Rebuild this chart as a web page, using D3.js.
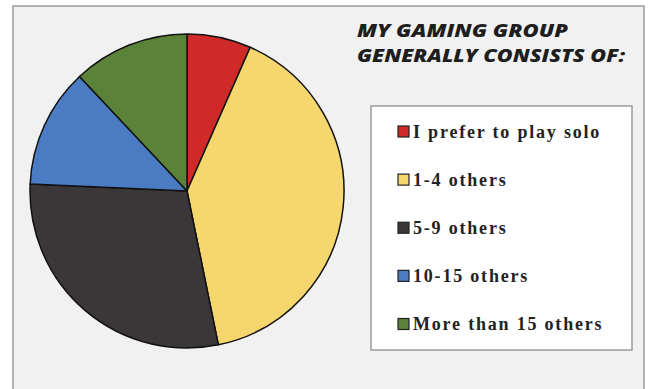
<!DOCTYPE html>
<html lang="en">
<head>
<meta charset="UTF-8">
<title>My gaming group</title>
<script src="https://d3js.org/d3.v7.min.js"></script>
<style>
  html, body { margin: 0; padding: 0; background: #fff; }
  svg { display: block; }
</style>
</head>
<body>
<div id="chart"></div>
<script>
// data (percent of respondents)
const categories = ["I prefer to play solo", "1-4 others", "5-9 others", "10-15 others", "More than 15 others"];
const values = [6.6, 40.2, 28.9, 12.3, 12.0];
const colors = ["#cf2a27", "#f5d76e", "#3b3738", "#4a7bc3", "#5b8239"];
const titleLines = ["MY GAMING GROUP", "GENERALLY CONSISTS OF:"];

const W = 649, H = 389;
const svg = d3.select("#chart").append("svg")
  .attr("width", W).attr("height", H);

// panel background + frame (left, top, right only)
svg.append("rect")
  .attr("x", 13).attr("y", 6).attr("width", 631).attr("height", H)
  .attr("fill", "#f1f1f1");
svg.append("path")
  .attr("d", `M13,${H} V6 H644 V${H}`)
  .attr("fill", "none").attr("stroke", "#9a9a9a").attr("stroke-width", 1.5);

// pie
const cx = 187, cy = 191, r = 157;
const pie = d3.pie().sort(null).value(d => d.v);
const arc = d3.arc().innerRadius(0).outerRadius(r);
const data = categories.map((c, i) => ({ c, v: values[i], col: colors[i] }));

svg.append("g")
  .attr("transform", `translate(${cx},${cy})`)
  .selectAll("path")
  .data(pie(data))
  .join("path")
  .attr("d", arc)
  .attr("fill", d => d.data.col)
  .attr("stroke", "#111")
  .attr("stroke-width", 1.5)
  .attr("stroke-linejoin", "round");

// title
svg.append("g")
  .selectAll("text")
  .data(titleLines)
  .join("text")
  .attr("x", 357)
  .attr("y", (d, i) => 37 + i * 25)
  .attr("font-family", "'Open Sans', sans-serif")
  .attr("font-weight", 800)
  .attr("font-style", "italic")
  .attr("font-size", 18)
  .attr("fill", "#1e1e1e")
  .attr("textLength", (d, i) => i === 0 ? 211 : 268)
  .attr("lengthAdjust", "spacingAndGlyphs")
  .text(d => d);

// legend box
svg.append("rect")
  .attr("x", 371).attr("y", 106).attr("width", 261).attr("height", 244)
  .attr("fill", "#fff").attr("stroke", "#9a9a9a").attr("stroke-width", 1.5);

const y = d3.scalePoint().domain(categories).range([137.5, 330]);
const leg = svg.append("g").selectAll("g")
  .data(data)
  .join("g")
  .attr("transform", d => `translate(398,${y(d.c)})`);

leg.append("rect")
  .attr("x", 0).attr("y", -11.5).attr("width", 11).attr("height", 11)
  .attr("fill", d => d.col).attr("stroke", "#222").attr("stroke-width", 1.2);

leg.append("text")
  .attr("x", 15)
  .attr("y", 0)
  .attr("font-family", "'Liberation Serif', serif")
  .attr("font-weight", 700)
  .attr("font-size", 18)
  .attr("letter-spacing", 1.8)
  .attr("fill", "#222")
  .text(d => d.c);
</script>
</body>
</html>
